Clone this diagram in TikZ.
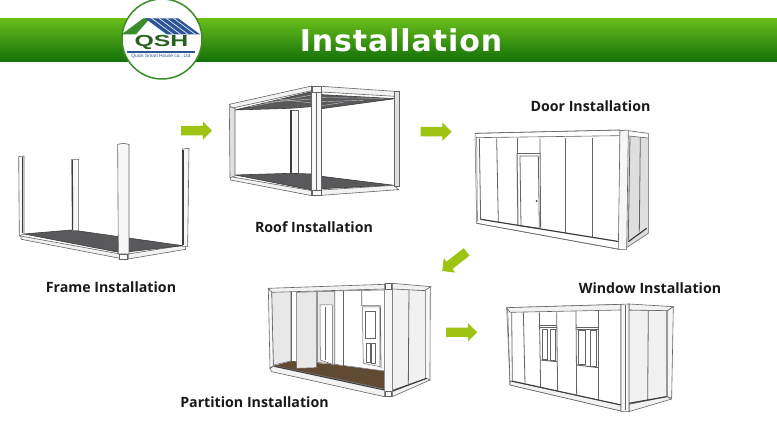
\documentclass[tikz,border=0pt]{standalone}
\usepackage{xcolor}
\usepackage{fontspec}
\usepackage{tikz}
\usetikzlibrary{shapes.arrows, arrows.meta, positioning, calc}
\setmainfont{Open Sans}
\newfontfamily\titlefont[LetterSpace=3]{DejaVu Sans}
\newfontfamily\logofont{Liberation Sans}
\definecolor{mygreen}{RGB}{157,196,18}
\definecolor{hdrtop}{RGB}{104,188,26}
\definecolor{hdrmid}{RGB}{72,160,14}
\definecolor{hdrbot}{RGB}{18,112,10}
\definecolor{ringgreen}{RGB}{58,140,40}
\definecolor{roofblue}{RGB}{44,84,150}
\definecolor{mygray}{RGB}{100,100,100}
\definecolor{mydark}{RGB}{60,60,62}
\definecolor{wallgray}{RGB}{232,232,232}
\definecolor{sidegray}{RGB}{222,222,222}
\definecolor{mybrown}{RGB}{96,74,50}
\tikzset{
  crop/.style 2 args={shift={(#1,#2)}, x=0.3333pt, y=-0.3333pt},
  post/.style={draw=mygray, fill=black!3, line width=0.6pt},
  beam/.style={draw=mygray, fill=black!5, line width=0.6pt},
  floorpart/.style={draw=mydark, fill=mydark!85, line width=0.6pt},
  wall/.style={draw=mygray, fill=white, line width=0.5pt},
  panel/.style={draw=mygray, line width=0.8pt},
  darkline/.style={draw=mydark, line width=1.1pt},
  greenarrow/.style={single arrow, fill=mygreen, draw=none, minimum height=31pt, single arrow head extend=4.5pt, single arrow head indent=0pt, inner xsep=0pt, inner ysep=4.5pt},
  caption/.style={font=\fontsize{14.2}{16}\selectfont\bfseries, inner sep=0pt, text=black!90}
}
\begin{document}
\begin{tikzpicture}[x=1pt, y=-1pt]
  \useasboundingbox (0,0) rectangle (777,438);
  \fill[white] (0,0) rectangle (777,438);

  % Header band
  \shade[top color=hdrtop, middle color=hdrmid, bottom color=hdrbot] (0,19) rectangle (777,62);
  \node[font=\titlefont\bfseries\fontsize{30}{32}\selectfont, text=white, inner sep=0pt] (title) at (401,40) {Installation};

  % Logo
  \fill[white] (162,39) circle (40);
  \draw[ringgreen, line width=1.5pt] (162,39) circle (40);
  \begin{scope}[crop={100}{0}]
    \fill[ringgreen] (65,103) -- (130,55) -- (150,55) -- (108,103) -- cycle;
    \fill[roofblue] (135,55) -- (235,55) -- (300,103) -- (200,103) -- cycle;
    \foreach \s in {0,22,44,66} {
      \draw[white, line width=0.6pt] (155+\s,55) -- (220+\s,103);
    }
    \fill[roofblue] (82,153) rectangle (285,158);
  \end{scope}
  \node[font=\logofont\bfseries\fontsize{16}{16}\selectfont, text=ringgreen!70!black, xscale=1.55, inner sep=0pt] (logoname) at (161.5,42.5) {QSH};
  \node[font=\logofont\fontsize{4.8}{5}\selectfont, text=roofblue, inner sep=0pt] (logotext) at (161.5,56.5) {Quick Smart House co., Ltd.};

  % Frame
  \begin{scope}[crop={0}{130}]
    \fill[beam] (62,318) -- (360,372) -- (360,385) -- (64,328) -- cycle;
    \fill[beam] (385,372) -- (555,345) -- (557,358) -- (385,387) -- cycle;
    \fill[floorpart] (72,312) -- (215,300) -- (548,347) -- (362,368) -- cycle;
    \filldraw[post] (56,80) -- (72,78) -- (72,312) -- (58,318) -- cycle;
    \draw[darkline] (68,82) -- (68,310);
    \filldraw[post] (215,88) -- (236,88) -- (236,302) -- (217,302) -- cycle;
    \draw[darkline] (217,90) -- (218,300);
    \filldraw[post] (547,57) -- (567,55) -- (563,350) -- (548,350) -- cycle;
    \draw[darkline] (549,60) -- (549,345);
    \filldraw[post] (353,43) -- (370,40) -- (387,43) -- (387,372) -- (355,372) -- cycle;
    \filldraw[post] (358,372) rectangle (382,387);
  \end{scope}

  % Roof
  \begin{scope}[crop={210}{75}]
    \filldraw[post] (240,105) rectangle (265,296);
    \draw[darkline] (243,105) -- (243,295);
    \fill[floorpart] (75,300) -- (240,295) -- (305,297) -- (305,345) -- cycle;
    \fill[floorpart] (335,304) -- (553,331) -- (335,341) -- cycle;
    \fill[floorpart] (75,105) -- (240,100) -- (305,95) -- (305,50) -- cycle;
    \fill[floorpart] (335,59) -- (555,71) -- (335,101) -- cycle;
    \foreach \s in {0,12,24} {
      \draw[white!70!mydark, line width=0.4pt] (120+3*\s,95-\s) -- (305,60+\s);
      \draw[white!70!mydark, line width=0.4pt] (335,68+\s) -- (520-5*\s,70+\s/2);
    }
    \filldraw[beam] (58,88) -- (305,33) -- (305,47) -- (64,100) -- cycle;
    \filldraw[beam] (335,34) -- (555,49) -- (555,64) -- (335,51) -- cycle;
    \filldraw[beam] (62,305) -- (305,347) -- (305,362) -- (62,315) -- cycle;
    \filldraw[beam] (335,345) -- (553,331) -- (565,344) -- (335,361) -- cycle;
    \filldraw[post, fill=black!12] (58,95) -- (75,100) -- (75,303) -- (60,308) -- cycle;
    \filldraw[post, fill=black!12] (552,49) -- (567,49) -- (567,334) -- (552,334) -- cycle;
    \filldraw[post] (305,33) rectangle (335,362);
    \draw[mygray, line width=0.5pt] (318,36) -- (318,345);
    \filldraw[post] (307,33) rectangle (333,52);
    \filldraw[post] (307,345) rectangle (333,362);
  \end{scope}

  % Door
  \begin{scope}[crop={460}{120}]
    \filldraw[wall] (45,40) -- (480,30) -- (480,388) -- (50,310) -- cycle;
    \fill[sidegray] (505,35) -- (565,40) -- (565,340) -- (495,385) -- cycle;
    \draw[mygray, line width=0.6pt] (505,32) -- (565,40) -- (565,340) -- (495,386);
    \draw[beam] (45,40) -- (480,30);
    \draw[beam] (48,53) -- (480,47);
    \foreach \xa/\xb/\yb in {58/62/300, 110/115/308, 240/242/325, 316/316/340, 398/398/352} {
      \draw[panel] (\xa,55) -- (\xb,\yb);
    }
    \draw[panel] (172,55) -- (172,100) -- (240,100);
    \draw[panel, line width=1pt] (171,100) -- (174,315);
    \draw[panel] (180,108) -- (235,108) -- (238,325) -- (183,318) -- cycle;
    \fill[mydark] (230,243) circle (3);
    \draw[darkline, line width=1.2pt] (62,298) -- (478,365);
    \draw[beam] (50,310) -- (475,388);
    \draw[darkline, line width=1.2pt] (505,365) -- (560,325);
    \draw[panel] (510,50) -- (505,362);
    \draw[panel] (541,50) -- (538,335);
    \filldraw[post] (480,32) -- (505,30) -- (500,388) -- (475,388) -- cycle;
    \draw[mygray, line width=0.5pt] (50,50) -- (52,305);
    \fill[white] (507,48) -- (564,54) -- (564,42) -- (507,36) -- cycle;
    \draw[mygray, line width=0.6pt] (507,48) -- (564,54);
  \end{scope}

  % Partition
  \begin{scope}[crop={255}{275}]
    \fill[mybrown] (58,272) -- (110,258) -- (230,268) -- (388,288) -- (388,342) -- cycle;
    \filldraw[wall, fill=wallgray] (50,50) -- (108,50) -- (108,258) -- (55,270) -- cycle;
    \filldraw[wall, fill=wallgray] (187,50) -- (240,50) -- (240,268) -- (187,262) -- cycle;
    \filldraw[wall, fill=white] (195,90) -- (232,90) -- (232,268) -- (196,255) -- cycle;
    \draw[panel] (212,95) -- (212,255);
    \filldraw[wall] (240,48) -- (388,45) -- (388,288) -- (240,268) -- cycle;
    \draw[panel] (265,48) -- (265,272);
    \draw[panel] (320,46) -- (320,92) -- (376,92) -- (378,280);
    \filldraw[wall] (322,96) -- (375,96) -- (375,275) -- (325,265) -- cycle;
    \draw[panel] (332,110) rectangle (362,190);
    \draw[panel] (335,205) rectangle (345,262);
    \draw[panel] (350,205) rectangle (362,265);
    \filldraw[wall, fill=wallgray] (125,52) -- (185,50) -- (185,278) -- (125,280) -- cycle;
    \draw[panel, line width=1pt] (110,52) -- (110,258);
    \filldraw[beam] (40,40) -- (388,28) -- (388,42) -- (48,52) -- cycle;
    \filldraw[post] (40,42) -- (50,50) -- (55,272) -- (45,280) -- cycle;
    \filldraw[beam] (45,280) -- (58,272) -- (388,342) -- (388,365) -- (50,290) -- cycle;
    \draw[darkline] (58,274) -- (388,345);
    \filldraw[wall, fill=wallgray!60!white] (412,40) -- (515,47) -- (515,310) -- (412,348) -- cycle;
    \draw[panel] (462,45) -- (460,328);
    \filldraw[beam] (412,25) -- (528,35) -- (515,47) -- (412,42) -- cycle;
    \filldraw[post] (512,45) -- (526,36) -- (525,315) -- (512,315) -- cycle;
    \filldraw[beam] (412,350) -- (515,310) -- (525,315) -- (412,365) -- cycle;
    \draw[darkline] (412,347) -- (515,310);
    \filldraw[post] (388,27) -- (412,25) -- (412,365) -- (388,365) -- cycle;
    \filldraw[post] (390,25) rectangle (410,44);
    \filldraw[post] (390,350) rectangle (410,365);
  \end{scope}

  % Window
  \begin{scope}[crop={495}{295}]
    \filldraw[wall] (35,38) -- (378,28) -- (378,348) -- (45,270) -- cycle;
    \filldraw[wall, fill=wallgray!60!white] (402,45) -- (515,47) -- (515,305) -- (402,325) -- cycle;
    \draw[panel] (460,47) -- (458,315);
    \foreach \xa/\ya/\xb/\yb in {50/52/52/258, 85/52/90/265, 133/52/137/278, 185/52/188/290, 243/48/245/300, 310/45/310/315} {
      \draw[panel] (\xa,\ya) -- (\xb,\yb);
    }
    \draw[panel] (133,92) -- (185,92);
    \draw[panel, line width=1pt] (136,98) -- (185,98);
    \draw[panel, line width=1pt] (136,195) -- (186,200);
    \draw[panel] (142,102) rectangle (158,192);
    \draw[panel] (165,102) rectangle (182,195);
    \draw[panel] (243,97) -- (310,97);
    \draw[panel, line width=1pt] (245,104) -- (310,104);
    \draw[panel, line width=1pt] (246,210) -- (310,218);
    \draw[panel] (250,106) rectangle (270,208);
    \draw[panel] (285,106) rectangle (305,214);
    \filldraw[beam] (35,38) -- (378,28) -- (378,45) -- (45,52) -- cycle;
    \filldraw[beam] (45,258) -- (378,330) -- (378,348) -- (45,270) -- cycle;
    \draw[darkline] (50,258) -- (378,330);
    \draw[beam] (38,42) -- (45,262);
    \filldraw[beam] (402,27) -- (535,35) -- (518,47) -- (402,45) -- cycle;
    \filldraw[post] (518,47) -- (535,35) -- (530,310) -- (518,305) -- cycle;
    \filldraw[beam] (402,328) -- (515,305) -- (530,312) -- (402,350) -- cycle;
    \draw[darkline] (402,325) -- (515,305);
    \filldraw[post] (378,28) -- (402,27) -- (402,350) -- (378,350) -- cycle;
    \draw[mygray, line width=0.5pt] (390,30) -- (390,345);
  \end{scope}

  % Step arrows
  \node[greenarrow] (arrowA) at (194.2,130.7) {};
  \node[greenarrow] (arrowB) at (433.8,131.7) {};
  \node[greenarrow, rotate=218] (arrowC) at (456.3,260) {};
  \node[greenarrow] (arrowD) at (459.2,332.3) {};

  % Labels
  \node[caption] (framelabel) at (111,287) {Frame Installation};
  \node[caption] (rooflabel) at (314,227) {Roof Installation};
  \node[caption] (doorlabel) at (590.5,106) {Door Installation};
  \node[caption] (windowlabel) at (650,288) {Window Installation};
  \node[caption] (partitionlabel) at (254.5,402) {Partition Installation};
\end{tikzpicture}
\end{document}
